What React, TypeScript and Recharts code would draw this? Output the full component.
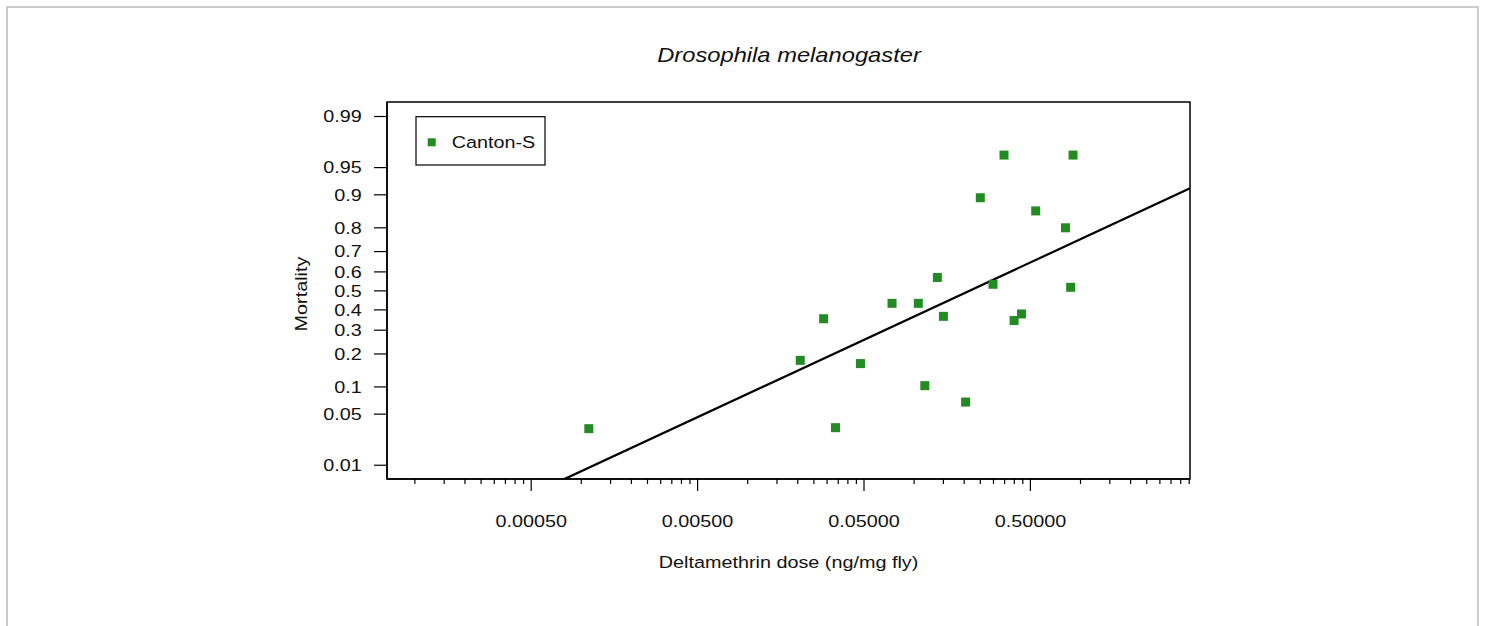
import React from 'react';
import { ScatterChart, Scatter, XAxis, YAxis, ReferenceArea } from 'recharts';

// dose (ng/mg fly) and observed mortality, Canton-S
const doses = [
  0.00111, 0.0207, 0.0286, 0.0337, 0.0476, 0.0737, 0.106, 0.116, 0.138, 0.150,
  0.204, 0.250, 0.298, 0.347, 0.399, 0.442, 0.538, 0.812, 0.873, 0.902,
];
const mortality = [
  0.033, 0.177, 0.355, 0.034, 0.166, 0.434, 0.434, 0.103, 0.571, 0.367,
  0.069, 0.893, 0.535, 0.965, 0.346, 0.379, 0.857, 0.80, 0.519, 0.965,
];

// fitted probit line, read at the plot edges
const fitDoses = [0.00078, 4.55];
const fitMortality = [0.0059, 0.9145];

const yTickLabels = ['0.01', '0.05', '0.1', '0.2', '0.3', '0.4', '0.5', '0.6', '0.7', '0.8', '0.9', '0.95', '0.99'];
const xMajorTicks = [0.0005, 0.005, 0.05, 0.5];
const xMajorLabels = ['0.00050', '0.00500', '0.05000', '0.50000'];
const xMinorSteps = [0.2, 0.3, 0.4, 0.5, 0.6, 0.7, 0.8, 0.9];
const xDecades = [0.0005, 0.005, 0.05, 0.5, 5];

const xDomain = [0.000068, 4.55];
const yDomain = [-2.51, 2.52];

const FONT = '"Liberation Sans", Arial, Helvetica, sans-serif';
const GREEN = '#228b22';

// inverse normal CDF (Acklam) for the probit axis
function qnorm(p: number): number {
  const a = [-39.69683028665376, 220.9460984245205, -275.9285104469687, 138.357751867269, -30.66479806614716, 2.506628277459239];
  const b = [-54.47609879822406, 161.5858368580409, -155.6989798598866, 66.80131188771972, -13.28068155288572];
  const c = [-0.007784894002430293, -0.3223964580411365, -2.400758277161838, -2.549732539343734, 4.374664141464968, 2.938163982698783];
  const d = [0.007784695709041462, 0.3224671290700398, 2.445134137142996, 3.754408661907416];
  const pl = 0.02425;
  if (p < pl) {
    const q = Math.sqrt(-2 * Math.log(p));
    return (((((c[0] * q + c[1]) * q + c[2]) * q + c[3]) * q + c[4]) * q + c[5]) / ((((d[0] * q + d[1]) * q + d[2]) * q + d[3]) * q + 1);
  }
  if (p > 1 - pl) {
    const q = Math.sqrt(-2 * Math.log(1 - p));
    return -(((((c[0] * q + c[1]) * q + c[2]) * q + c[3]) * q + c[4]) * q + c[5]) / ((((d[0] * q + d[1]) * q + d[2]) * q + d[3]) * q + 1);
  }
  const q = p - 0.5;
  const r = q * q;
  return ((((((a[0] * r + a[1]) * r + a[2]) * r + a[3]) * r + a[4]) * r + a[5]) * q) / (((((b[0] * r + b[1]) * r + b[2]) * r + b[3]) * r + b[4]) * r + 1);
}

const points = doses.map((dose, i) => ({ dose, z: qnorm(mortality[i]) }));
const fitLine = fitDoses.map((dose, i) => ({ dose, z: qnorm(fitMortality[i]) }));

const xTicks: number[] = [];
xDecades.forEach((base) => xMinorSteps.forEach((s) => xTicks.push(base * s)));
xMajorTicks.forEach((t) => xTicks.push(t));
xTicks.sort((p, q) => p - q);
const yTicks = yTickLabels.map((l) => qnorm(Number(l)));

const XTick = (props: any) => {
  const { x, y, payload } = props;
  const major = xMajorTicks.indexOf(payload.value);
  return (
    <g>
      <line x1={x} x2={x} y1={y} y2={y + (major >= 0 ? 12 : 5)} stroke="#000" strokeWidth={1.2} />
      {major >= 0 && (
        <text transform={`translate(${x},${y + 48}) scale(1.2,1)`} textAnchor="middle" fontSize={16.5} fontFamily={FONT} fill="#111">
          {xMajorLabels[major]}
        </text>
      )}
    </g>
  );
};

const YTick = (props: any) => {
  const { x, y, index } = props;
  return (
    <g>
      <line x1={x - 13} x2={x} y1={y} y2={y} stroke="#000" strokeWidth={1.2} />
      <text transform={`translate(${x - 25.3},${y + 5.9}) scale(1.2,1)`} textAnchor="end" fontSize={16.5} fontFamily={FONT} fill="#111">
        {yTickLabels[index]}
      </text>
    </g>
  );
};

const Square = (props: any) => {
  const { cx, cy } = props;
  return <rect x={cx - 4.5} y={cy - 4.5} width={9} height={9} fill={GREEN} />;
};

export default function App() {
  return (
    <div style={{ position: 'absolute', left: 0, top: 0, width: 1485, height: 626, background: '#fff', overflow: 'hidden' }}>
      <div style={{ position: 'absolute', left: 6, top: 6, width: 1473, height: 700, border: '2px solid #cccccc', boxSizing: 'border-box' }} />
      <div style={{ position: 'absolute', left: 0, top: 0 }}>
        <ScatterChart width={1485} height={626} margin={{ top: 102, right: 295, bottom: 87, left: 287 }}>
          <XAxis
            type="number"
            dataKey="dose"
            scale="log"
            domain={xDomain}
            allowDataOverflow
            ticks={xTicks}
            interval={0}
            height={60}
            tickSize={0}
            tickMargin={0}
            tickLine={false}
            axisLine={{ stroke: '#000', strokeWidth: 1.5 }}
            tick={<XTick />}
          />
          <YAxis
            type="number"
            dataKey="z"
            domain={yDomain}
            allowDataOverflow
            ticks={yTicks}
            interval={0}
            width={100}
            tickSize={0}
            tickMargin={0}
            tickLine={false}
            axisLine={{ stroke: '#000', strokeWidth: 1.5 }}
            tick={<YTick />}
          />
          <ReferenceArea x1={xDomain[0]} x2={xDomain[1]} y1={yDomain[0]} y2={yDomain[1]} fill="none" stroke="#000" strokeWidth={1.5} ifOverflow="visible" />
          <Scatter
            name="fit"
            data={fitLine}
            line={{ stroke: '#000', strokeWidth: 2.2 }}
            shape={() => <g />}
            isAnimationActive={false}
          />
          <Scatter name="Canton-S" data={points} shape={<Square />} isAnimationActive={false} />
        </ScatterChart>
      </div>
      <svg width={1485} height={626} style={{ position: 'absolute', left: 0, top: 0, pointerEvents: 'none' }}>
        <text transform="translate(789,61.5) scale(1.13,1)" textAnchor="middle" fontSize={21} fontStyle="italic" fontFamily={FONT} fill="#111">
          Drosophila melanogaster
        </text>
        <text transform="translate(788.5,568) scale(1.2,1)" textAnchor="middle" fontSize={16.5} fontFamily={FONT} fill="#111">
          Deltamethrin dose (ng/mg fly)
        </text>
        <text transform="translate(307,294) rotate(-90) scale(1.2,1)" textAnchor="middle" fontSize={16.5} fontFamily={FONT} fill="#111">
          Mortality
        </text>
        <rect x={416} y={116.7} width={129} height={48.3} fill="#fff" stroke="#000" strokeWidth={1.2} />
        <rect x={427.7} y={138.3} width={8} height={8} fill={GREEN} />
        <text transform="translate(451.7,148) scale(1.2,1)" fontSize={16.5} fontFamily={FONT} fill="#111">
          Canton-S
        </text>
      </svg>
    </div>
  );
}
